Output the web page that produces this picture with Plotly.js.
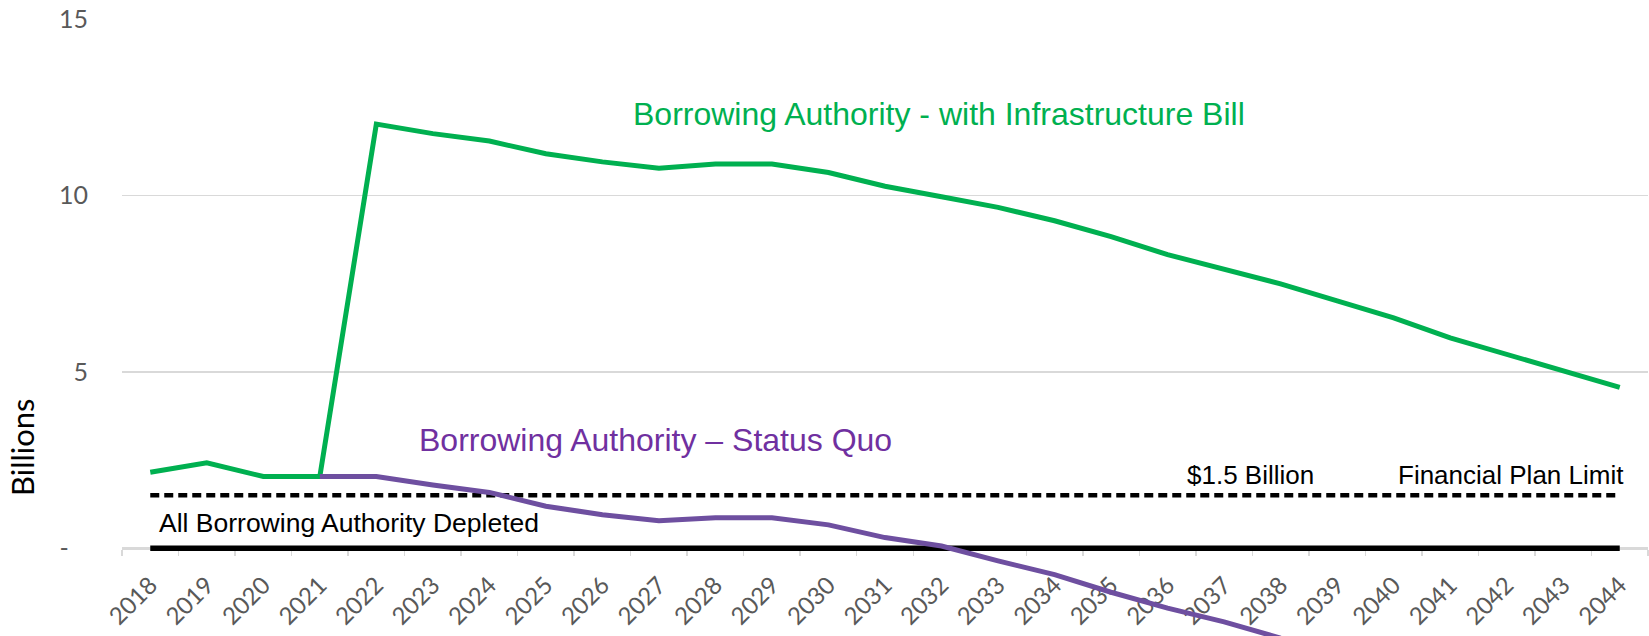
<!DOCTYPE html>
<html>
<head>
<meta charset="utf-8">
<script src="https://cdn.plot.ly/plotly-3.0.1.min.js"></script>
<style>html,body{margin:0;padding:0;background:#fff;}#chart{width:1649px;height:636px;}</style>
</head>
<body>
<div id="chart"></div>
<script>
const years = ['2018','2019','2020','2021','2022','2023','2024','2025','2026','2027','2028','2029','2030','2031','2032','2033','2034','2035','2036','2037','2038','2039','2040','2041','2042','2043','2044'];
const withInfrastructure = [2.15,2.42,2.03,2.03,12.02,11.75,11.54,11.18,10.95,10.77,10.89,10.89,10.65,10.26,9.96,9.66,9.28,8.83,8.32,7.90,7.49,7.01,6.53,5.96,5.49,5.01,4.56];
const statusQuoYears = ['2021','2022','2023','2024','2025','2026','2027','2028','2029','2030','2031','2032','2033','2034','2035','2036','2037','2038'];
const statusQuo = [2.03,2.03,1.79,1.58,1.19,0.95,0.78,0.86,0.86,0.66,0.30,0.06,-0.36,-0.75,-1.25,-1.70,-2.09,-2.55];
const planLimit = 1.5;
const depleted = 0;
const yTickVals = [0,5,10,15];
const yTickText = ['-\u00a0\u00a0\u00a0','5','10','15'];

const limitLine = years.map(() => planLimit);
const depletedLine = years.map(() => depleted);

const yMin = -2.49, yMax = 15;
const zeroPos = (0 - yMin) / (yMax - yMin);

const traces = [
  {x: years, y: limitLine, type: 'scatter', mode: 'lines', line: {color: '#000', width: 4.5, dash: '9px,5px'}, hoverinfo: 'skip'},
  {x: years, y: depletedLine, type: 'scatter', mode: 'lines', line: {color: '#000', width: 5.5}, hoverinfo: 'skip'},
  {x: years, y: withInfrastructure, type: 'scatter', mode: 'lines', line: {color: '#00B050', width: 5}},
  {x: statusQuoYears, y: statusQuo, type: 'scatter', mode: 'lines', line: {color: '#6E4FA0', width: 5}}
];

const layout = {
  width: 1649, height: 636,
  margin: {l: 122, r: 1, t: 19, b: 0},
  paper_bgcolor: '#fff', plot_bgcolor: '#fff',
  showlegend: false,
  font: {family: 'Liberation Sans, Arial, sans-serif'},
  xaxis: {
    type: 'category',
    range: [-0.5, 26.5],
    anchor: 'free', position: zeroPos,
    showgrid: false, zeroline: false,
    showline: true, linecolor: '#D9D9D9', linewidth: 1.5,
    ticks: 'outside', tickson: 'boundaries', ticklen: 6, tickcolor: '#D9D9D9', tickwidth: 1.5,
    tickangle: -45,
    ticklabelstandoff: 12,
    tickfont: {family: 'Lato, Open Sans, sans-serif', size: 24, color: '#595959'},
    layer: 'below traces'
  },
  yaxis: {
    range: [yMin, yMax],
    tickvals: yTickVals, ticktext: yTickText,
    showgrid: true, gridcolor: '#D9D9D9', gridwidth: 1.5,
    zeroline: false, showline: false, ticks: '',
    ticklabelstandoff: 33,
    tickfont: {family: 'Lato, Open Sans, sans-serif', size: 25, color: '#595959'}
  },
  annotations: [
    {text: 'Billions', xref: 'paper', yref: 'paper', x: (22-122)/1526, y: (636-447)/617, xanchor: 'center', yanchor: 'middle', textangle: -90, showarrow: false,
     font: {family: 'Lato, Open Sans, sans-serif', size: 31, color: '#000'}},
    {text: 'Borrowing Authority - with Infrastructure Bill', xref: 'paper', yref: 'y', x: (631-122)/1526, xanchor: 'left', y: 12.3, showarrow: false,
     font: {size: 32, color: '#00B050'}},
    {text: 'Borrowing Authority \u2013 Status Quo', xref: 'paper', yref: 'y', x: (417-122)/1526, xanchor: 'left', y: 3.06, showarrow: false,
     font: {size: 32, color: '#7030A0'}},
    {text: '$1.5 Billion', xref: 'paper', yref: 'y', x: (1185-122)/1526, xanchor: 'left', y: 2.07, showarrow: false,
     font: {size: 26, color: '#000'}},
    {text: 'Financial Plan Limit', xref: 'paper', yref: 'y', x: (1396-122)/1526, xanchor: 'left', y: 2.07, showarrow: false,
     font: {size: 26, color: '#000'}},
    {text: 'All Borrowing Authority Depleted', xref: 'paper', yref: 'y', x: (157-122)/1526, xanchor: 'left', y: 0.71, showarrow: false,
     font: {size: 26.5, color: '#000'}}
  ]
};

Plotly.newPlot('chart', traces, layout, {displayModeBar: false, staticPlot: true});
</script>
</body>
</html>
